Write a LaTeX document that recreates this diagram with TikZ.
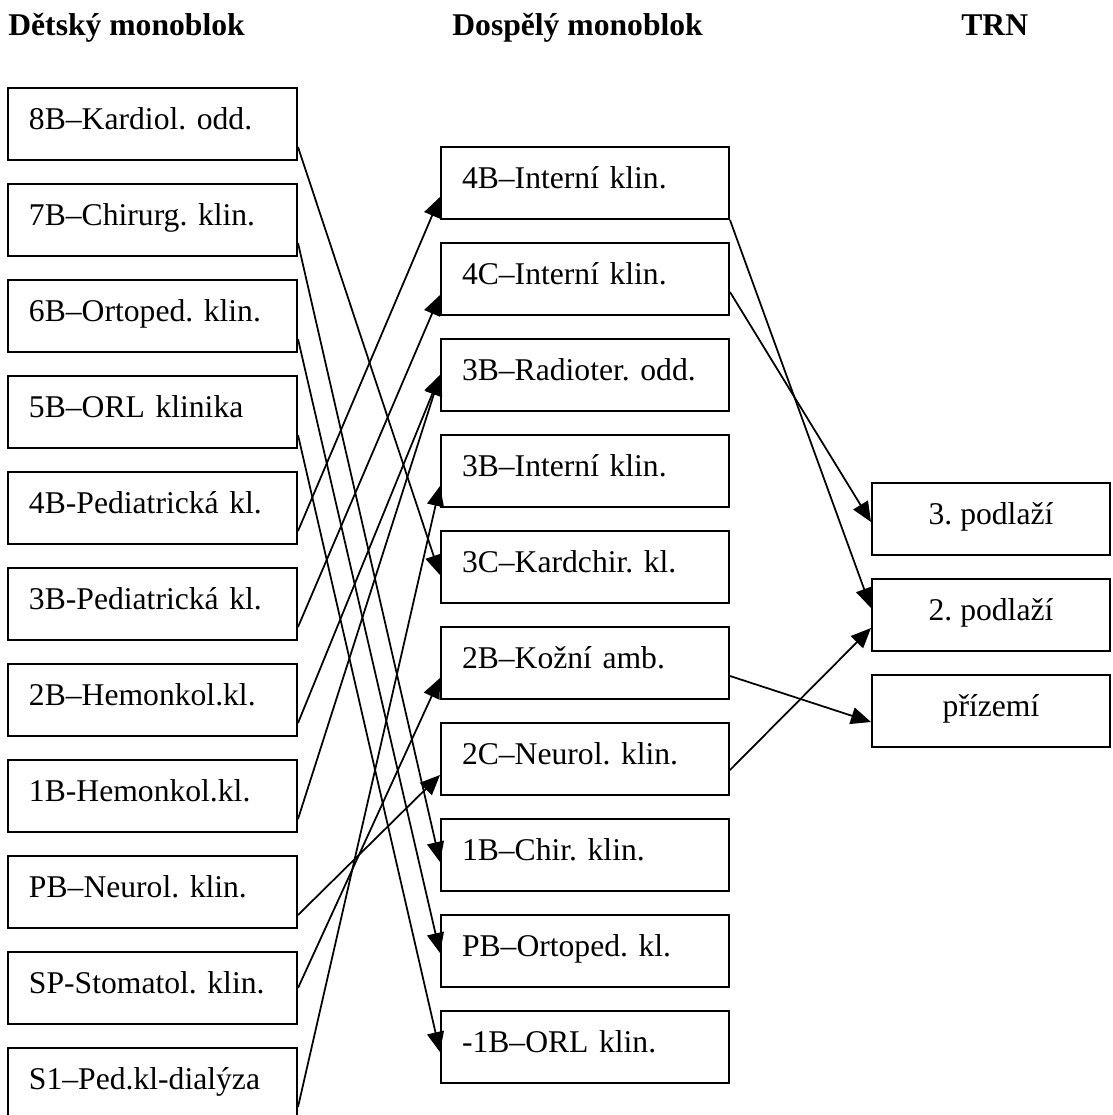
\documentclass[tikz,border=0pt]{standalone}
\usepackage{amsmath,amssymb}
\usepackage{fontspec}
\setmainfont{Liberation Serif}
\usepackage{tikz}
\usetikzlibrary{arrows.meta,calc}
\frenchspacing

\tikzset{
	odd/.style={draw, line width=0.04cm, minimum height=1.44cm, inner xsep=0.42cm, inner ysep=0pt,
		text height=0.5cm, text depth=0.3cm, font=\fontsize{18}{21.6}\selectfont},
	dbox/.style={odd, text width=4.94cm, align=left},
	abox/.style={odd, text width=4.92cm, align=left},
	tbox/.style={odd, minimum width=4.76cm, inner xsep=0pt},
	head/.style={anchor=base west, inner sep=0pt, font=\fontsize{18}{21.6}\selectfont\bfseries},
	move/.style={line width=0.035cm, -{Triangle[length=0.4cm,width=0.34cm]}}
}

\begin{document}
\begin{tikzpicture}
	\clip (0,0) rectangle (22.24,-22.30);
	\node[head] (hd) at (0.16,-0.70) {Dětský monoblok};
	\node[head] (ha) at (9.04,-0.70) {Dospělý monoblok};
	\node[head] (ht) at (19.22,-0.70) {TRN};
%
	\node[dbox] (d8) at (3.05,-2.48) {8B–Kardiol. odd.};
	\node[dbox] (d7) at (3.05,-4.40) {7B–Chirurg. klin.};
	\node[dbox] (d6) at (3.05,-6.32) {6B–Ortoped. klin.};
	\node[dbox] (d5) at (3.05,-8.24) {5B–ORL klinika};
	\node[dbox] (d4) at (3.05,-10.16) {4B-Pediatrická kl.};
	\node[dbox] (d3) at (3.05,-12.08) {3B-Pediatrická kl.};
	\node[dbox] (d2) at (3.05,-14.00) {2B–Hemonkol.kl.};
	\node[dbox] (d1) at (3.05,-15.92) {1B-Hemonkol.kl.};
	\node[dbox] (dP) at (3.05,-17.84) {PB–Neurol. klin.};
	\node[dbox] (dS) at (3.05,-19.76) {SP-Stomatol. klin.};
	\node[dbox] (dS1) at (3.05,-21.68) {S1–Ped.kl-dialýza};
%
	\node[abox] (a4B) at (11.70,-3.66) {4B–Interní klin.};
	\node[abox] (a4C) at (11.70,-5.58) {4C–Interní klin.};
	\node[abox] (a3R) at (11.70,-7.50) {3B–Radioter. odd.};
	\node[abox] (a3I) at (11.70,-9.42) {3B–Interní klin.};
	\node[abox] (a3C) at (11.70,-11.34) {3C–Kardchir. kl.};
	\node[abox] (a2B) at (11.70,-13.26) {2B–Kožní amb.};
	\node[abox] (a2C) at (11.70,-15.18) {2C–Neurol. klin.};
	\node[abox] (a1B) at (11.70,-17.10) {1B–Chir. klin.};
	\node[abox] (aPB) at (11.70,-19.02) {PB–Ortoped. kl.};
	\node[abox] (aM1) at (11.70,-20.94) {-1B–ORL klin.};
%
	\node[tbox] (t3) at (19.82,-10.38) {3. podlaží};
	\node[tbox] (t2) at (19.82,-12.30) {2. podlaží};
	\node[tbox] (t0) at (19.82,-14.22) {přízemí};
%
	\path[move] ($(d8.east)+(0,-0.46)$) edge ($(a3C.west)+(0,-0.16)$)
		($(d7.east)+(0,-0.46)$) edge ($(a1B.west)+(0,-0.14)$)
		($(d6.east)+(0,-0.46)$) edge ($(aPB.west)+(0,-0.04)$)
		($(d5.east)+(0,-0.46)$) edge ($(aM1.west)+(0,-0.10)$)
		($(d4.east)+(0,-0.46)$) edge ($(a4B.west)+(0,-0.28)$)
		($(d3.east)+(0,-0.46)$) edge ($(a4C.west)+(0,-0.32)$)
		($(d2.east)+(0,-0.46)$) edge (a3R.west)
		($(d1.east)+(0,-0.46)$) edge (a3R.west)
		($(dP.east)+(0,-0.46)$) edge ($(a2C.west)+(0,-0.32)$)
		(dS.east) edge ($(a2B.west)+(0,-0.30)$)
		($(dS1.east)+(0,-0.46)$) edge ($(a3I.west)+(0,-0.30)$);
	\path[move] (a4B.south east) edge ($(t2.west)+(0,0.14)$)
		($(a4C.east)+(0,-0.26)$) edge ($(t3.west)+(0,-0.06)$)
		($(a2B.east)+(0,-0.26)$) edge ($(t0.west)+(0,-0.22)$)
		($(a2C.east)+(0,-0.22)$) edge ($(t2.west)+(0,-0.26)$);
\end{tikzpicture}
\end{document}
